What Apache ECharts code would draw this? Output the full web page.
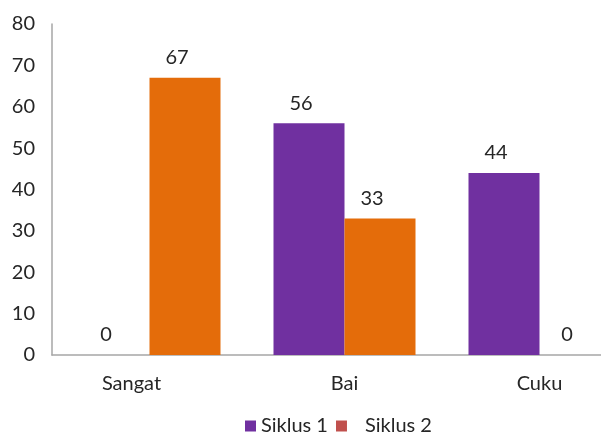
<!DOCTYPE html>
<html>
<head>
<meta charset="utf-8">
<script src="https://cdn.jsdelivr.net/npm/echarts@6/dist/echarts.min.js"></script>
<style>
	html, body {margin: 0; padding: 0; overflow: hidden; background: #fff;}
	#chart {width: 640px; height: 437px;}
</style>
</head>
<body>
<div id="chart"></div>
<script>
// 类目 & 数据
var categories = ['Sangat', 'Bai', 'Cuku'];
var siklus1 = [0, 56, 44];
var siklus2 = [67, 33, 0];
var yTicks = [0, 10, 20, 30, 40, 50, 60, 70, 80];

var fontName = 'Lato, "Open Sans", sans-serif';
var txtColor = '#262626';

var chart = echarts.init(document.getElementById('chart'));
var option = {
	animation: false,
	textStyle: {fontFamily: fontName},
	grid: {left: 52, right: 3, top: 24, bottom: 82},
	legend: {
		left: 240,
		top: 411,
		icon: 'rect',
		itemWidth: 11,
		itemHeight: 11,
		itemGap: 8,
		textStyle: {fontSize: 20, color: txtColor, fontFamily: fontName},
		data: [
			{name: 'Siklus 1', itemStyle: {color: '#7030A0'}},
			{name: 'Siklus 2', itemStyle: {color: '#C0504D'}, textStyle: {padding: [0, 0, 0, 13]}}
		]
	},
	xAxis: {
		type: 'category',
		data: [
			{value: categories[0], textStyle: {padding: [0, 36, 0, 0]}},
			categories[1],
			categories[2]
		],
		axisLine: {show: true, lineStyle: {color: '#A6A6A6', width: 1.5}},
		axisTick: {show: false},
		axisLabel: {fontSize: 20, color: txtColor, margin: 19}
	},
	yAxis: {
		type: 'value',
		min: yTicks[0],
		max: yTicks[yTicks.length - 1],
		interval: 10,
		axisLine: {show: true, lineStyle: {color: '#A6A6A6', width: 1.5}},
		axisTick: {show: false},
		splitLine: {show: false},
		axisLabel: {fontSize: 20, color: txtColor, margin: 17}
	},
	series: [
		{
			name: 'Siklus 1',
			type: 'bar',
			data: siklus1,
			barWidth: 71,
			barGap: '0%',
			itemStyle: {color: '#7030A0'},
			label: {show: true, position: 'top', distance: 10, offset: [-8, 0], fontSize: 20, color: txtColor}
		},
		{
			name: 'Siklus 2',
			type: 'bar',
			data: siklus2,
			barWidth: 71,
			barGap: '0%',
			itemStyle: {color: '#E46C0A'},
			label: {show: true, position: 'top', distance: 10, offset: [-8, 0], fontSize: 20, color: txtColor}
		}
	]
};
chart.setOption(option);
</script>
</body>
</html>
